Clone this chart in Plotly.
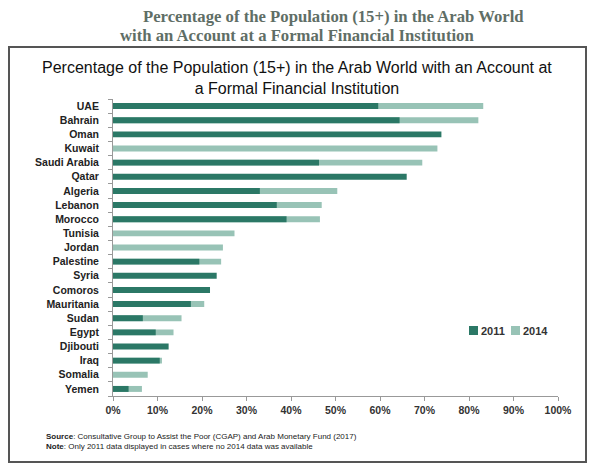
import plotly.graph_objects as go

countries = ["UAE", "Bahrain", "Oman", "Kuwait", "Saudi Arabia", "Qatar", "Algeria",
             "Lebanon", "Morocco", "Tunisia", "Jordan", "Palestine", "Syria", "Comoros",
             "Mauritania", "Sudan", "Egypt", "Djibouti", "Iraq", "Somalia", "Yemen"]
val_2011 = [59.6, 64.4, 73.8, None, 46.3, 66.0, 33.0, 36.8, 39.0, None, None, 19.4, 23.3,
            21.8, 17.5, 6.7, 9.6, 12.5, 10.5, None, 3.5]
val_2014 = [83.2, 82.1, None, 72.9, 69.5, None, 50.4, 46.9, 46.5, 27.3, 24.7, 24.3, None,
            None, 20.5, 15.4, 13.6, None, 11.0, 7.8, 6.5]
series_names = ["2011", "2014"]
x_ticks = [0, 10, 20, 30, 40, 50, 60, 70, 80, 90, 100]
x_tick_labels = [f"{v}%" for v in x_ticks]

DARK = "#2b7866"
LIGHT = "#98c3b6"
OFF = 8  # page body margin in the browser
W, H = 601 - OFF, 471 - OFF
L, R, T, B = 113, 558, 99, 396  # plot area in window pixels


def px(x):
    return (x - L) / (R - L)


def py(y):
    return (B - y) / (B - T)


fig = go.Figure()
fig.add_trace(go.Bar(y=countries, x=val_2014, orientation="h", name=series_names[1],
                     marker=dict(color=LIGHT, line=dict(width=0)), showlegend=False))
fig.add_trace(go.Bar(y=countries, x=val_2011, orientation="h", name=series_names[0],
                     marker=dict(color=DARK, line=dict(width=0)), showlegend=False))

font_sans = "Liberation Sans, Arial, sans-serif"

fig.update_layout(
    width=W, height=H,
    margin=dict(l=L - OFF, r=601 - R, t=T - OFF, b=471 - B, autoexpand=False),
    paper_bgcolor="white", plot_bgcolor="white",
    barmode="overlay", bargap=0.58,
    font=dict(family=font_sans, color="#222222"),
    showlegend=False,
    xaxis=dict(range=[0, 100], tickvals=x_ticks, ticktext=x_tick_labels,
               showgrid=False, zeroline=False, showline=True, linecolor="#999999",
               linewidth=1, ticks="outside", ticklen=4, tickcolor="#999999",
               automargin=False,
               tickfont=dict(size=10.5, color="#333333", family=font_sans, weight="bold"),
               fixedrange=True),
    yaxis=dict(categoryorder="array", categoryarray=countries[::-1], autorange=False,
               range=[-0.5, 20.5], showgrid=False, zeroline=False, showline=True,
               linecolor="#999999", linewidth=1, ticks="outside", ticklen=4,
               tickcolor="#999999", tickson="boundaries", automargin=False,
               ticklabelstandoff=11,
               tickfont=dict(size=10.5, color="#222222", family=font_sans, weight="bold"),
               fixedrange=True),
)

# legend (drawn as key squares + labels)
for name, color, x0 in [(series_names[0], DARK, 469), (series_names[1], LIGHT, 511)]:
    fig.add_shape(type="rect", xref="paper", yref="paper",
                  x0=px(x0), x1=px(x0 + 9), y0=py(335), y1=py(326),
                  line=dict(width=0), fillcolor=color)
    fig.add_annotation(text=name, xref="paper", yref="paper", x=px(x0 + 10), y=py(331),
                       xanchor="left", yanchor="middle", showarrow=False,
                       font=dict(size=11, color="#333333", family=font_sans, weight="bold"))

# outer frame
fig.add_shape(type="rect", xref="paper", yref="paper",
              x0=px(9), x1=px(586), y0=py(462), y1=py(47),
              line=dict(color="#555555", width=2), fillcolor="rgba(0,0,0,0)", layer="below")

# page-level serif title
fig.add_annotation(text="Percentage of the Population (15+) in the Arab World",
                   xref="paper", yref="paper", x=px(333), y=py(16), xanchor="center",
                   yanchor="middle", showarrow=False,
                   font=dict(family="Liberation Serif, Times New Roman, serif", size=16.7,
                             color="#5f6e66", weight="bold"))
fig.add_annotation(text="with an Account at a Formal Financial Institution",
                   xref="paper", yref="paper", x=px(297), y=py(35), xanchor="center",
                   yanchor="middle", showarrow=False,
                   font=dict(family="Liberation Serif, Times New Roman, serif", size=16.7,
                             color="#5f6e66", weight="bold"))

# inner chart title
fig.add_annotation(text="Percentage of the Population (15+) in the Arab World with an Account at"
                        "<br>a Formal Financial Institution",
                   xref="paper", yref="paper", x=px(297), y=py(78), xanchor="center",
                   yanchor="middle", showarrow=False, align="center",
                   font=dict(family=font_sans, size=16, color="#111111"))

# source / note
fig.add_annotation(text="<b>Source</b>: Consultative Group to Assist the Poor (CGAP) and Arab Monetary Fund (2017)"
                        "<br><b>Note</b>: Only 2011 data displayed in cases where no 2014 data was available",
                   xref="paper", yref="paper", x=px(44), y=py(441), xanchor="left",
                   yanchor="middle", showarrow=False, align="left",
                   font=dict(family=font_sans, size=8, color="#222222"))

fig.write_html("out.html")
